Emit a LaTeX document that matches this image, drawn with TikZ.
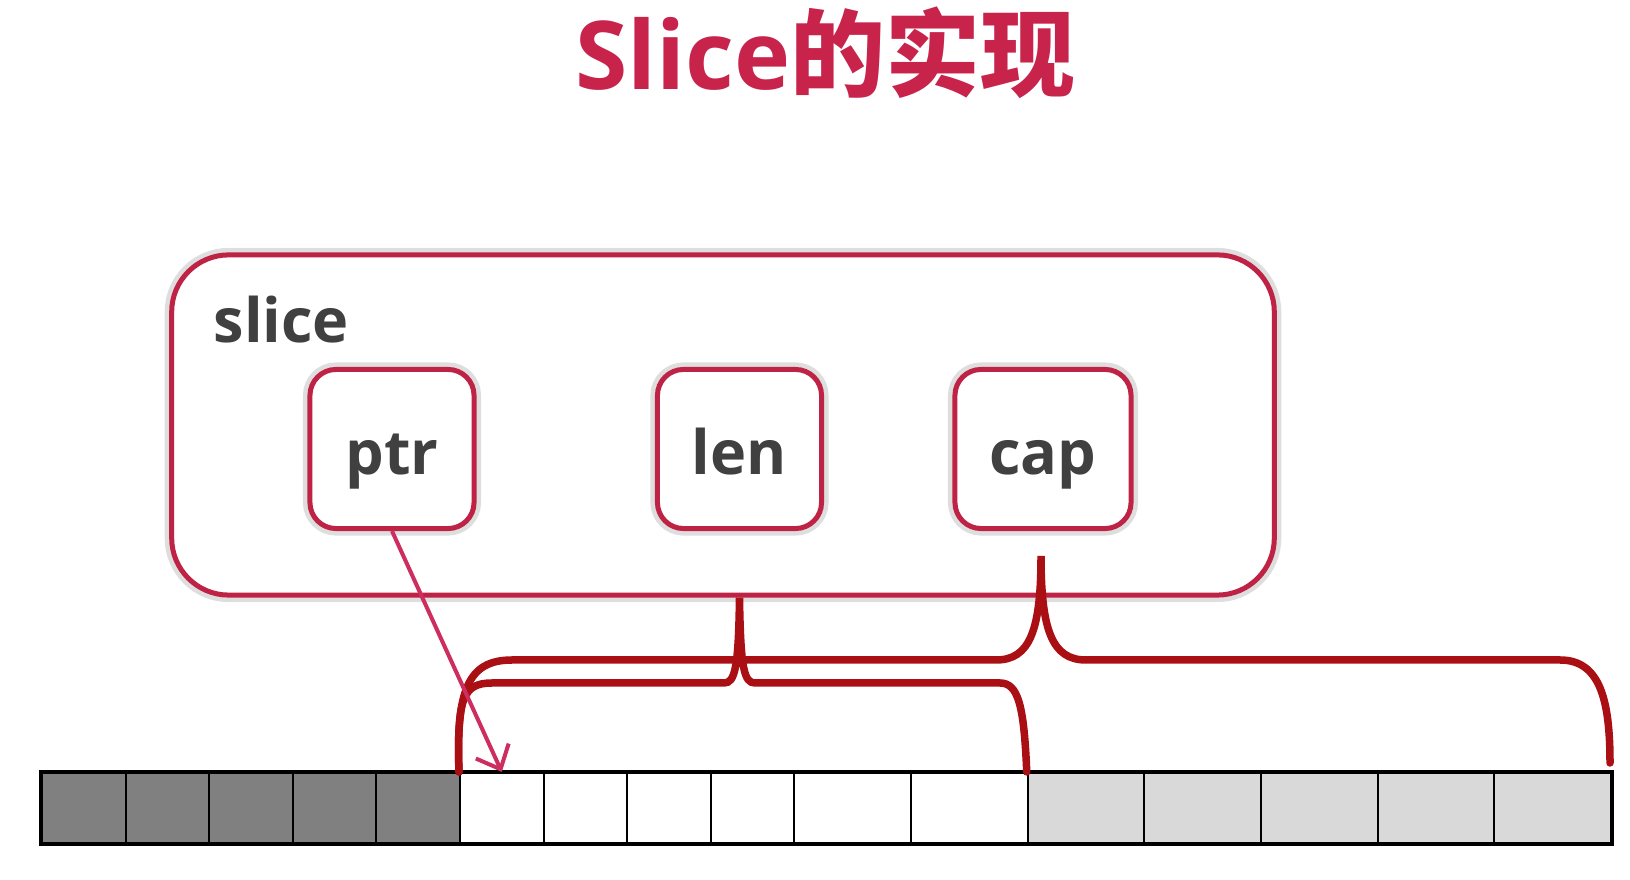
\documentclass[tikz,border=0pt]{standalone}
\usepackage{fontspec}
\setmainfont{Open Sans}
\newfontfamily\cjkfont{Noto Sans CJK SC}
\usetikzlibrary{arrows.meta}
\definecolor{titlered}{RGB}{200,35,75}
\definecolor{boxred}{RGB}{190,35,70}
\definecolor{bracered}{RGB}{170,15,20}
\definecolor{ptrred}{RGB}{205,45,95}
\definecolor{textgray}{RGB}{64,64,64}
\definecolor{darkcell}{RGB}{128,128,128}
\definecolor{lightcell}{RGB}{217,217,217}
\begin{document}
\begin{tikzpicture}[x=0.01cm, y=-0.01cm,
  glow/.style={preaction={draw=black!13, line width=0.14cm}},
  field/.style={draw=boxred, line width=0.05cm, rounded corners=0.26cm, fill=white, glow,
    minimum width=1.64cm, minimum height=1.59cm, text height=0.5cm, text depth=0cm, inner sep=0pt,
    font=\fontsize{17.4}{20}\selectfont\bfseries, text=textgray},
  cell/.style={draw=black, line width=0.02cm, minimum height=0.70cm, inner sep=0pt},
  narrow/.style={minimum width=0.836cm},
  wide/.style={minimum width=1.1666cm},
  brace/.style={draw=bracered, line width=0.075cm, line cap=round},
]
\useasboundingbox (0,0) rectangle (1630,880);
\node[anchor=base, font=\fontsize{27}{32}\selectfont\bfseries, text=titlered] (title) at (825,90) {Slice{\cjkfont 的实现}};
% slice struct
\node[draw=boxred, line width=0.05cm, rounded corners=0.57cm, fill=white, glow, minimum width=11.02cm, minimum height=3.40cm] (slicebox) at (723,425){};
\node[anchor=base west, inner sep=0pt, font=\fontsize{17.4}{20}\selectfont\bfseries, text=textgray] (slicelabel) at (213,343) {slice};
\node[field] (ptr) at (392,449) {ptr};
\node[field] (len) at (739.5,449) {len};
\node[field, minimum width=1.76cm] (cap) at (1043,449) {cap};
% array
\node[cell, narrow, fill=darkcell] (cell0) at (83.8,808){};
\node[cell, narrow, fill=darkcell] (cell1) at (167.4,808){};
\node[cell, narrow, fill=darkcell] (cell2) at (251,808){};
\node[cell, narrow, fill=darkcell] (cell3) at (334.6,808){};
\node[cell, narrow, fill=darkcell] (cell4) at (418.2,808){};
\node[cell, narrow, fill=white] (cell5) at (501.8,808){};
\node[cell, narrow, fill=white] (cell6) at (585.4,808){};
\node[cell, narrow, fill=white] (cell7) at (669,808){};
\node[cell, narrow, fill=white] (cell8) at (752.6,808){};
\node[cell, wide, fill=white] (cell9) at (852.7,808){};
\node[cell, wide, fill=white] (cell10) at (969.4,808){};
\node[cell, wide, fill=lightcell] (cell11) at (1086.1,808){};
\node[cell, wide, fill=lightcell] (cell12) at (1202.7,808){};
\node[cell, wide, fill=lightcell] (cell13) at (1319.4,808){};
\node[cell, wide, fill=lightcell] (cell14) at (1436,808){};
\node[cell, wide, fill=lightcell] (cell15) at (1552.7,808){};
\draw[line width=0.035cm] (cell0.north west) rectangle (cell15.south east);
% braces
\coordinate (lentip) at (len |- slicebox.south);
\coordinate (captip) at (1041,556);
\coordinate (capend) at (1610,763);
\draw[brace] (cell5.north west) .. controls (457,700) and (462,683) .. (492,683) -- (724,683)
  .. controls (735,683) and (738.5,668) .. (lentip) .. controls (740.5,668) and (744,683) .. (755,683)
  -- (1000,683) .. controls (1018,683) and (1024,705) .. (cell11.north west);
\draw[brace] (cell5.north west) .. controls (456,690) and (468,660) .. (512,660) -- (996,660)
  .. controls (1030,660) and (1041,630) .. (captip) .. controls (1041,630) and (1052,660) .. (1086,660)
  -- (1560,660) .. controls (1600,660) and (1610,700) .. (capend);
% pointer
\draw[-{Straight Barb[length=0.2cm, width=0.36cm]}, draw=ptrred, line width=0.04cm] (ptr.south) -- (cell5.north);
\end{tikzpicture}
\end{document}
